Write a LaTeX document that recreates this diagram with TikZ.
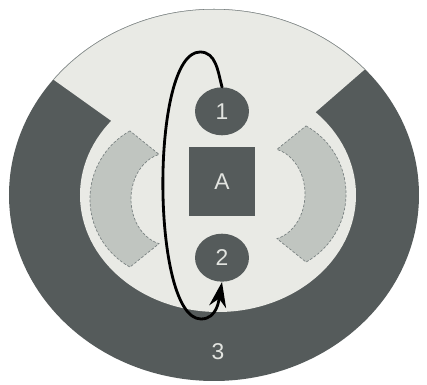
\documentclass[tikz,border=0pt]{standalone}
\usepackage{fontspec}
\setsansfont{Liberation Sans}
\usetikzlibrary{positioning, arrows.meta, shapes.geometric}
\definecolor{darkgrey}{HTML}{555B5B}
\definecolor{palegrey}{HTML}{E9EAE5}
\definecolor{arcgrey}{HTML}{C0C5C0}
\definecolor{edgegrey}{HTML}{7A8282}
\definecolor{labelgrey}{HTML}{E2E4E0}

\begin{document}
\begin{tikzpicture}[x=0.02cm, y=0.02cm]
	\tikzset{
		label text/.style={text=labelgrey, font=\sffamily\fontsize{13}{15}\selectfont},
		blob/.style={ellipse, fill=darkgrey, label text, minimum width=1.08cm, minimum height=0.96cm, inner sep=0pt},
		block/.style={rectangle, fill=darkgrey, label text, minimum width=1.32cm, minimum height=1.38cm, inner sep=0pt},
		pad/.style={fill=arcgrey, draw=edgegrey, line width=0.4pt, dash pattern=on 1.5pt off 1pt},
		loop/.style={line width=1.6pt, line cap=round, -{Stealth[length=5mm, width=3.4mm]}}
	}
	\useasboundingbox (0,0) rectangle (427,385);
	% outer body and the light opening
	\fill[darkgrey] (214,190) ellipse [x radius=205, y radius=186];
	\begin{scope}
		\clip (214,190) ellipse [x radius=205, y radius=186];
		\fill[palegrey] (218,188) -- +(144.5:400) -- +(41:400) -- cycle;
		\fill[palegrey] (218,190) ellipse [x radius=138, y radius=117];
		\clip (218,188) -- +(144.5:400) -- +(41:400) -- cycle;
		\draw[edgegrey, line width=0.6pt] (214,190) ellipse [x radius=205, y radius=186];
	\end{scope}
	% side pads
	\foreach \s/\y in {1/186, -1/191} {
		\begin{scope}[shift={(218,\y)}, xscale=\s]
			\draw[pad] ([shift={(-50,0)}]119.2:78) arc[start angle=119.2, end angle=240.8, radius=78]
				-- ([shift={(-50,0)}]256:37 and 46) arc[start angle=256, end angle=104, x radius=37, y radius=46] -- cycle;
		\end{scope}
	}
	\node[block] (A) at (222,203) {A};
	\node[blob, above=0.23cm of A] (one) {1};
	\node[blob, below=0.33cm of A] (two) {2};
	\node[label text] (three) at (218,33) {3};
	% the loop
	\coordinate (peak) at (200,333);
	\coordinate (low) at (201,66);
	\draw[loop] (one.north) to[out=105, in=0] (peak) to[out=180, in=180, looseness=0.48] (low)
		to[out=0, in=260] (two.south);
\end{tikzpicture}
\end{document}
